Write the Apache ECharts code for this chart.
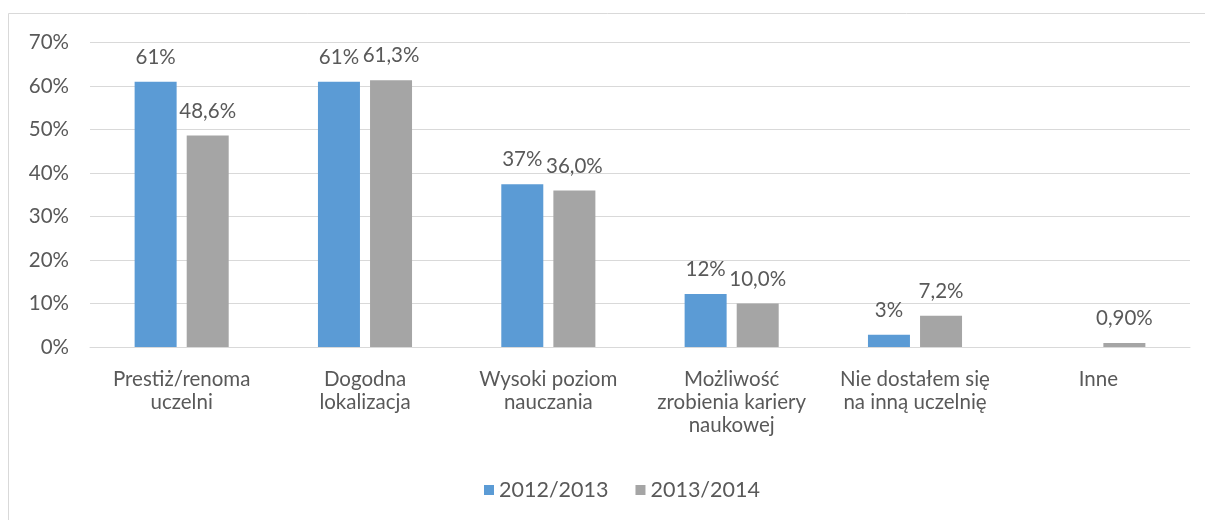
<!DOCTYPE html>
<html>
<head>
<meta charset="utf-8">
<script src="https://cdn.jsdelivr.net/npm/echarts@6/dist/echarts.min.js"></script>
<style>
html,body{margin:0;padding:0;background:#fff;}
#chart{width:1205px;height:520px;}
</style>
</head>
<body>
<div id="chart"></div>
<script>
const categories = ['Prestiż/renoma\nuczelni', 'Dogodna\nlokalizacja', 'Wysoki poziom\nnauczania', 'Możliwość\nzrobienia kariery\nnaukowej', 'Nie dostałem się\nna inną uczelnię', 'Inne'];
const seriesNames = ['2012/2013', '2013/2014'];
const values2012 = [61.0, 61.0, 37.4, 12.2, 2.8, null];
const values2013 = [48.6, 61.3, 36.0, 10.0, 7.2, 0.9];
const labels2012 = ['61%', '61%', '37%', '12%', '3%', ''];
const labels2013 = ['48,6%', '61,3%', '36,0%', '10,0%', '7,2%', '0,90%'];
const yTicks = [0, 10, 20, 30, 40, 50, 60, 70];

const FONT = 'Lato';
const TXT = '#595959';
const FS = 20.5;
const chart = echarts.init(document.getElementById('chart'));
chart.setOption({
  backgroundColor: '#fff',
  animation: false,
  textStyle: { fontFamily: FONT },
  graphic: [{
    type: 'rect', silent: true, z: -1,
    shape: { x: 8.5, y: 13.5, width: 1230, height: 540 },
    style: { fill: 'none', stroke: '#d9d9d9', lineWidth: 1 }
  }],
  grid: { left: 90, right: 15, top: 42.5, bottom: 173, containLabel: false },
  legend: {
    data: seriesNames, bottom: 14, left: 479,
    itemWidth: 10, itemHeight: 10, itemGap: 27, icon: 'rect',
    textStyle: { color: TXT, fontSize: FS + 1, fontFamily: FONT }
  },
  xAxis: {
    type: 'category', data: categories,
    axisLine: { show: true, lineStyle: { color: '#d9d9d9', width: 1 } },
    axisTick: { show: false },
    axisLabel: { color: TXT, fontSize: FS, fontFamily: FONT, lineHeight: 23, margin: 21, interval: 0 }
  },
  yAxis: {
    type: 'value', min: yTicks[0], max: yTicks[yTicks.length - 1], interval: 10,
    axisLine: { show: false }, axisTick: { show: false },
    splitLine: { lineStyle: { color: '#d9d9d9', width: 1 } },
    axisLabel: { color: TXT, fontSize: FS, fontFamily: FONT, margin: 21, formatter: v => v + '%' }
  },
  series: [
    {
      name: seriesNames[0], type: 'bar', data: values2012,
      barWidth: 42, barGap: '24%',
      itemStyle: { color: '#5B9BD5' },
      label: { show: true, position: 'top', distance: 14, color: TXT, fontSize: FS, fontFamily: FONT,
        formatter: p => labels2012[p.dataIndex] }
    },
    {
      name: seriesNames[1], type: 'bar', data: values2013,
      barWidth: 42,
      itemStyle: { color: '#A5A5A5' },
      label: { show: true, position: 'top', distance: 14, color: TXT, fontSize: FS, fontFamily: FONT,
        formatter: p => labels2013[p.dataIndex] }
    }
  ]
});
</script>
</body>
</html>
